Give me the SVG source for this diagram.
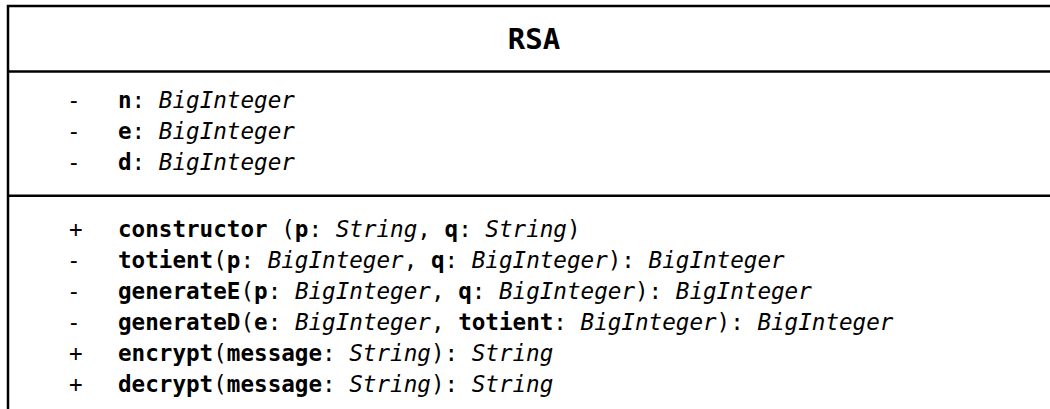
<svg xmlns="http://www.w3.org/2000/svg" width="1050" height="409" viewBox="0 0 1050 409">
  <style>
    .frame { fill: #ffffff; stroke: #000000; stroke-width: 2.5; }
    .rule { stroke: #000000; stroke-width: 2.5; }
    text { font-family: "DejaVu Sans Mono", "Liberation Mono", monospace; fill: #000000; white-space: pre; }
    .title { font-size: 29px; font-weight: bold; }
    .row { font-size: 22.6px; }
    .b { font-weight: bold; }
    .i { font-style: italic; }
  </style>
  <rect width="1050" height="409" fill="#ffffff"/>
  <g id="class-RSA">
    <rect class="frame" x="8" y="6" width="1100" height="500"/>
    <text class="title" x="534" y="49" text-anchor="middle">RSA</text>
    <line class="rule" x1="8" y1="71.5" x2="1060" y2="71.5"/>
    <g id="attributes">
      <text class="row" x="67" y="108" xml:space="preserve">-</text>
      <text class="row" x="118" y="108" xml:space="preserve"><tspan class="b">n</tspan>: <tspan class="i">BigInteger</tspan></text>
      <text class="row" x="67" y="139" xml:space="preserve">-</text>
      <text class="row" x="118" y="139" xml:space="preserve"><tspan class="b">e</tspan>: <tspan class="i">BigInteger</tspan></text>
      <text class="row" x="67" y="170" xml:space="preserve">-</text>
      <text class="row" x="118" y="170" xml:space="preserve"><tspan class="b">d</tspan>: <tspan class="i">BigInteger</tspan></text>
    </g>
    <line class="rule" x1="8" y1="195.7" x2="1060" y2="195.7"/>
    <g id="operations">
      <text class="row" x="69" y="237" xml:space="preserve">+</text>
      <text class="row" x="118" y="237" xml:space="preserve"><tspan class="b">constructor</tspan> (<tspan class="b">p</tspan>: <tspan class="i">String</tspan>, <tspan class="b">q</tspan>: <tspan class="i">String</tspan>)</text>
      <text class="row" x="67" y="268" xml:space="preserve">-</text>
      <text class="row" x="118" y="268" xml:space="preserve"><tspan class="b">totient</tspan>(<tspan class="b">p</tspan>: <tspan class="i">BigInteger</tspan>, <tspan class="b">q</tspan>: <tspan class="i">BigInteger</tspan>): <tspan class="i">BigInteger</tspan></text>
      <text class="row" x="67" y="299" xml:space="preserve">-</text>
      <text class="row" x="118" y="299" xml:space="preserve"><tspan class="b">generateE</tspan>(<tspan class="b">p</tspan>: <tspan class="i">BigInteger</tspan>, <tspan class="b">q</tspan>: <tspan class="i">BigInteger</tspan>): <tspan class="i">BigInteger</tspan></text>
      <text class="row" x="67" y="330" xml:space="preserve">-</text>
      <text class="row" x="118" y="330" xml:space="preserve"><tspan class="b">generateD</tspan>(<tspan class="b">e</tspan>: <tspan class="i">BigInteger</tspan>, <tspan class="b">totient</tspan>: <tspan class="i">BigInteger</tspan>): <tspan class="i">BigInteger</tspan></text>
      <text class="row" x="69" y="361" xml:space="preserve">+</text>
      <text class="row" x="118" y="361" xml:space="preserve"><tspan class="b">encrypt</tspan>(<tspan class="b">message</tspan>: <tspan class="i">String</tspan>): <tspan class="i">String</tspan></text>
      <text class="row" x="69" y="392" xml:space="preserve">+</text>
      <text class="row" x="118" y="392" xml:space="preserve"><tspan class="b">decrypt</tspan>(<tspan class="b">message</tspan>: <tspan class="i">String</tspan>): <tspan class="i">String</tspan></text>
    </g>
  </g>
</svg>
